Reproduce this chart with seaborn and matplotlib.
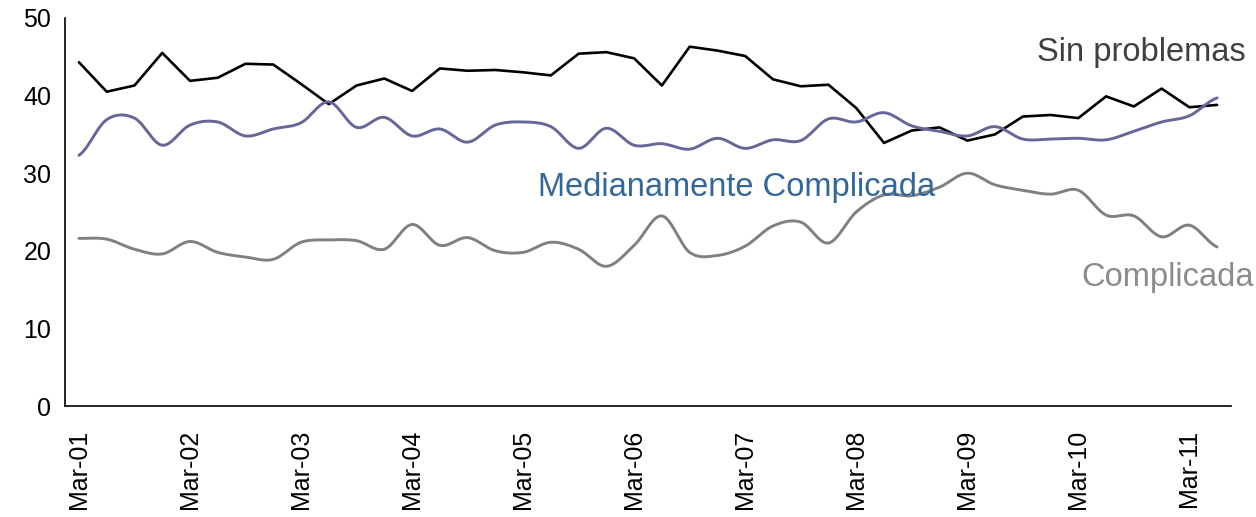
import numpy as np
import pandas as pd
import matplotlib
matplotlib.use('Agg')
import matplotlib.pyplot as plt
import seaborn as sns

# quarterly series, Mar-01 .. Jun-11
quarters = pd.period_range('2001Q1', '2011Q2', freq='Q')
tick_labels = ['Mar-%02d' % (q.year % 100) for q in quarters]

sin_problemas = [44.3, 40.5, 41.3, 45.5, 41.9, 42.3, 44.1, 44.0, 41.5, 38.9,
                 41.3, 42.2, 40.6, 43.5, 43.2, 43.3, 43.0, 42.6, 45.4, 45.6,
                 44.8, 41.3, 46.3, 45.8, 45.1, 42.1, 41.2, 41.4, 38.4, 33.9,
                 35.5, 35.9, 34.2, 35.0, 37.3, 37.5, 37.1, 39.9, 38.6, 40.9,
                 38.5, 38.8]
medianamente = [32.3, 36.9, 37.1, 33.6, 36.2, 36.6, 34.8, 35.7, 36.5, 39.2,
                35.9, 37.2, 34.8, 35.7, 34.0, 36.2, 36.6, 36.0, 33.2, 35.8,
                33.6, 33.8, 33.1, 34.5, 33.2, 34.3, 34.2, 37.0, 36.6, 37.8,
                36.1, 35.4, 34.8, 36.0, 34.4, 34.4, 34.5, 34.3, 35.4, 36.6,
                37.4, 39.7]
complicada = [21.6, 21.5, 20.2, 19.6, 21.2, 19.8, 19.2, 18.9, 21.1, 21.4,
              21.3, 20.2, 23.4, 20.7, 21.7, 20.0, 19.8, 21.1, 20.2, 18.0,
              20.7, 24.5, 19.8, 19.4, 20.6, 23.2, 23.7, 21.0, 25.0, 27.2,
              27.1, 28.2, 30.0, 28.5, 27.8, 27.3, 27.8, 24.6, 24.5, 21.8,
              23.3, 20.5]


def smooth(y, n=12):
    '''excel style smoothed line (catmull-rom through the points)'''
    y = np.asarray(y, dtype=float)
    p = np.concatenate([[y[0]], y, [y[-1]]])
    xs, ys = [], []
    for i in range(len(y) - 1):
        p0, p1, p2, p3 = p[i], p[i + 1], p[i + 2], p[i + 3]
        t = np.linspace(0, 1, n, endpoint=False)
        ys.append(0.5 * (2 * p1 + (-p0 + p2) * t
                         + (2 * p0 - 5 * p1 + 4 * p2 - p3) * t ** 2
                         + (-p0 + 3 * p1 - 3 * p2 + p3) * t ** 3))
        xs.append(i + t)
    xs.append([len(y) - 1])
    ys.append([y[-1]])
    return np.concatenate(xs), np.concatenate(ys)


sns.set_style('white')
plt.rcParams['font.family'] = ['Liberation Sans', 'DejaVu Sans']

fig = plt.figure(figsize=(12.56, 5.17), dpi=100)
ax = fig.add_axes([0.0518, 0.2147, 0.9283, 0.7505])

idx = np.arange(len(quarters))
sns.lineplot(x=idx, y=sin_problemas, color='black', lw=1.9, ax=ax)
mx, my = smooth(medianamente)
sns.lineplot(x=mx, y=my, color='#666699', lw=2.1, ax=ax)
cx, cy = smooth(complicada)
sns.lineplot(x=cx, y=cy, color='#808080', lw=2.1, ax=ax)

ax.set_xlim(-0.5, len(quarters) - 0.5)
ax.set_ylim(0, 50)
ax.set_yticks([0, 10, 20, 30, 40, 50])
ax.tick_params(axis='y', length=7, width=1, color='#808080', labelsize=18,
               labelcolor='black', pad=3)

# tick marks between categories, labels on every march
ax.set_xticks(np.arange(-0.5, len(quarters)), minor=True)
ax.set_xticks(idx[::4])
ax.set_xticklabels(tick_labels[::4], rotation=90, fontsize=18, color='black')
ax.tick_params(axis='x', which='major', length=0, pad=17)
ax.tick_params(axis='x', which='minor', length=7, width=1, color='#808080')

for s in ['top', 'right']:
    ax.spines[s].set_visible(False)
for s in ['left', 'bottom']:
    ax.spines[s].set_color('black')
    ax.spines[s].set_linewidth(1.2)

ax.text(34.5, 44.5, 'Sin problemas', fontsize=23.5,
        color='#404040', ha='left', va='baseline')
ax.text(16.54, 27.1, 'Medianamente Complicada', fontsize=23.5,
        color='#336699', ha='left', va='baseline')
ax.text(36.1, 15.5, 'Complicada', fontsize=23.5,
        color='#8c8c8c', ha='left', va='baseline')

fig.savefig('out.png', dpi=100)
